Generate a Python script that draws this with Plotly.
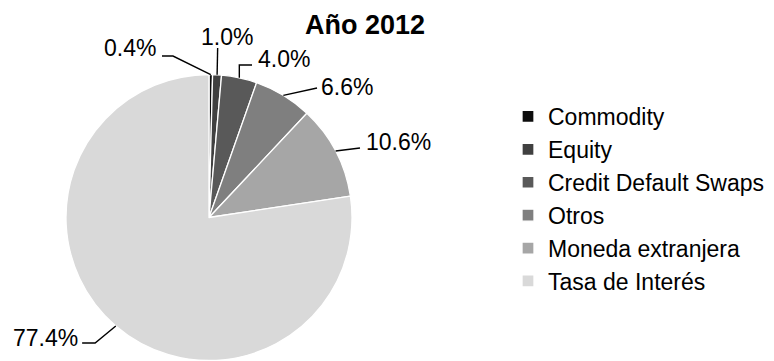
import math
import plotly.graph_objects as go

# Derivatives notional breakdown, year 2012 (share of total, %)
categories = ["Commodity", "Equity", "Credit Default Swaps", "Otros",
              "Moneda extranjera", "Tasa de Interés"]
shares = [0.4, 1.0, 4.0, 6.6, 10.6, 77.4]
value_labels = ["0.4%", "1.0%", "4.0%", "6.6%", "10.6%", "77.4%"]
colors = ["#0d0d0d", "#404040", "#595959", "#7f7f7f", "#a6a6a6", "#d9d9d9"]

W, H = 774, 361
CX, CY, R = 209, 217.5, 143          # pie centre and radius in pixels
FONT = "Liberation Sans, Arial, sans-serif"

# leader geometry per slice, relative to the point on the rim at the slice middle:
# (elbow dx, elbow dy), (end dx, end dy), text offset from end, text anchor
leaders = [
    ((-37.8, -18.5), (-48.8, -18.5), (-5, -8), "right"),
    ((0.6, -26.7), (0.6, -26.7), (-17.7, -11.5), "left"),
    ((0.0, -12.8), (12.7, -12.8), (5, -6), "left"),
    ((33.7, -7.3), (33.7, -7.3), (3, -1), "left"),
    ((24.4, -3.0), (24.4, -3.0), (5, -6), "left"),
    ((-20.7, 17.1), (-33.7, 17.1), (-3, -5), "right"),
]


def px(x, y):
    return x / W, 1 - y / H


fig = go.Figure(go.Pie(
    labels=categories,
    values=shares,
    sort=False,
    direction="clockwise",
    rotation=0,
    marker=dict(colors=colors, line=dict(color="#ffffff", width=1.3)),
    textinfo="none",
    hoverinfo="label+percent",
    domain=dict(x=[(CX - R) / W, (CX + R) / W],
                y=[1 - (CY + R) / H, 1 - (CY - R) / H]),
))

total = sum(shares)
cum = 0.0
shapes, annotations = [], []
for val, lab, (elb, end, toff, anchor) in zip(shares, value_labels, leaders):
    mid = (cum + val / 2) / total * 2 * math.pi
    cum += val
    ax, ay = CX + R * math.sin(mid), CY - R * math.cos(mid)
    pts = [(ax, ay), (ax + elb[0], ay + elb[1]), (ax + end[0], ay + end[1])]
    path = "M " + " L ".join("%.4f,%.4f" % px(x, y) for x, y in pts)
    shapes.append(dict(type="path", path=path, xref="paper", yref="paper",
                       line=dict(color="#000000", width=1.4)))
    tx, ty = px(pts[2][0] + toff[0], pts[2][1] + toff[1])
    annotations.append(dict(text=lab, x=tx, y=ty, xref="paper", yref="paper",
                            xanchor=anchor, yanchor="middle", showarrow=False,
                            borderpad=0,
                            font=dict(family=FONT, size=23, color="#000000")))

fig.update_layout(
    width=W, height=H,
    margin=dict(l=0, r=0, t=0, b=0),
    paper_bgcolor="#ffffff",
    plot_bgcolor="#ffffff",
    title=dict(text="<b>Año 2012</b>", x=365 / W, y=1 - 25 / H,
               xanchor="center", yanchor="middle",
               font=dict(family=FONT, size=27, color="#000000")),
    legend=dict(x=508 / W, y=1 - 95 / H, xanchor="left", yanchor="top",
                font=dict(family=FONT, size=23, color="#000000"),
                bgcolor="rgba(0,0,0,0)", borderwidth=0, traceorder="normal"),
    shapes=shapes,
    annotations=annotations,
)

fig.write_html("out.html")
